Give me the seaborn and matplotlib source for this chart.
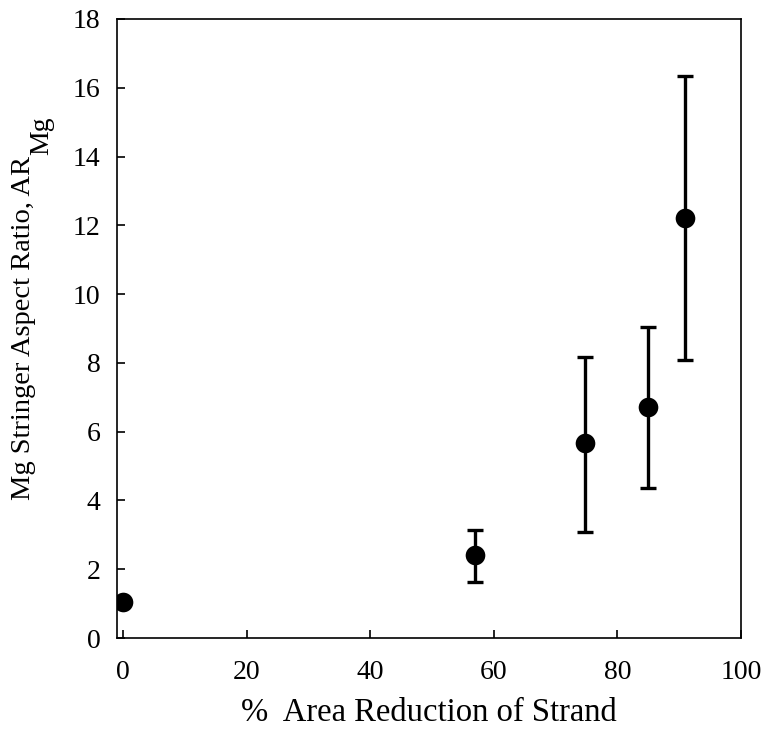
import matplotlib
matplotlib.use("Agg")
import matplotlib.pyplot as plt
import seaborn as sns
import pandas as pd
import numpy as np

area_reduction = [0, 57, 74.7, 85, 91]
aspect_ratio = [1.05, 2.41, 5.67, 6.72, 12.21]
err_upper = [1.05, 3.14, 8.17, 9.04, 16.33]
err_lower = [1.05, 1.63, 3.08, 4.36, 8.08]

sns.set_theme(style="ticks")
plt.rcParams['font.family'] = ['Liberation Serif', 'DejaVu Serif']

df = pd.DataFrame({"x": area_reduction, "y": aspect_ratio})

W, H = 765, 732
fig = plt.figure(figsize=(W / 100, H / 100), dpi=100)
ax = fig.add_axes([117 / W, 1 - 638 / H, (741 - 117) / W, (638 - 19) / H])

yerr = np.array([np.array(aspect_ratio) - np.array(err_lower),
                 np.array(err_upper) - np.array(aspect_ratio)])
ax.errorbar(area_reduction, aspect_ratio, yerr=yerr, fmt='none', ecolor='black',
            elinewidth=2.4, capsize=6, capthick=2.4, zorder=2)
sns.scatterplot(data=df, x="x", y="y", ax=ax, color='black', s=200, marker='o',
                edgecolor='black', linewidth=0, zorder=3, legend=False)

ax.set_xlim(-1, 100)
ax.set_ylim(0, 18)
ax.set_xticks([0, 20, 40, 60, 80, 100])
ax.set_yticks(range(0, 19, 2))
ax.tick_params(direction='in', length=6, width=1.2, labelsize=20, colors='black')
ax.tick_params(axis='x', pad=16)
ax.tick_params(axis='y', pad=12)
for s in ax.spines.values():
    s.set_linewidth(1.2)
    s.set_color('black')
ax.set_xlabel("%  Area Reduction of Strand", fontsize=23.5, color='black', labelpad=9)
ax.set_ylabel("")

# y label with a large subscript
main = fig.text(11 / W, 1 - 500 / H, "Mg Stringer Aspect Ratio, AR", rotation=90,
                ha='left', va='bottom', fontsize=20.5, color='black')
fig.canvas.draw()
bb = main.get_window_extent()
fig.text(29 / W, (bb.y1 + 1) / H, "Mg", rotation=90, ha='left', va='bottom',
         fontsize=20, color='black')

fig.savefig("out.png", dpi=100)
